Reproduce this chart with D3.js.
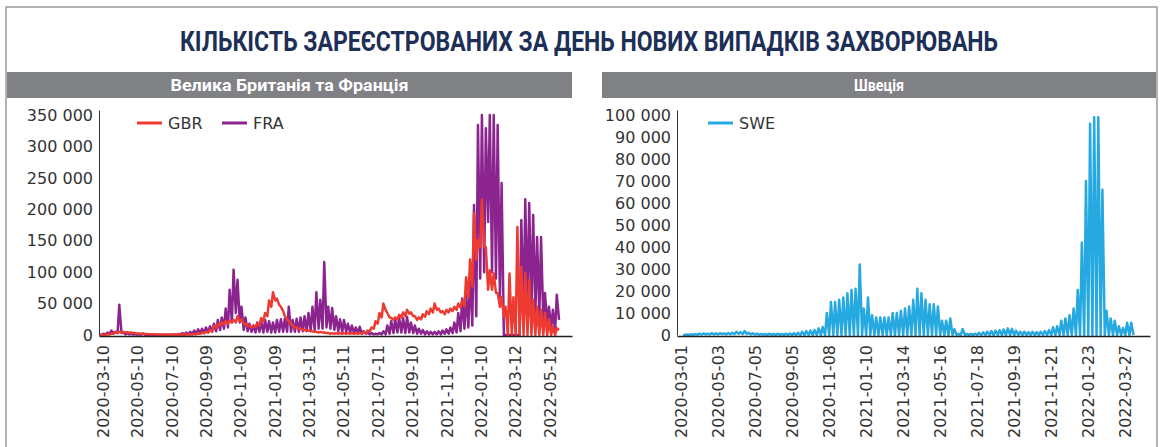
<!DOCTYPE html>
<html><head><meta charset="utf-8">
<script src="https://cdn.jsdelivr.net/npm/d3@7"></script>
<style>body{margin:0;background:#fff} svg{display:block}</style>
</head><body>
<svg id="c" width="1161" height="447"></svg>
<script>
const title = "КІЛЬКІСТЬ ЗАРЕЄСТРОВАНИХ ЗА ДЕНЬ НОВИХ ВИПАДКІВ ЗАХВОРЮВАНЬ";
const panelTitles = ["Велика Британія та Франція", "Швеція"];
const seriesNames = ["GBR", "FRA", "SWE"];
const weekStart = "2020-03-02";
// weekly values, thousands: weekday high and weekend low for each week
const fraPeakK = [1,2,4,7,5,48,4,3,2,1.5,1,
 2.5,0.8,0.6,0.5,0.5,0.6,0.5,0.7,0.8,1.5,
 3,4,5,7,9,10,12,14,18,24,
 28,42,72,104,88,45,28,18,15,20,
 22,24,22,20,24,25,26,45,24,26,
 28,30,35,45,68,56,116,45,43,30,
 25,24,18,15,12,13,6,4,3,2,
 3,6,15,22,25,28,27,29,20,15,
 10,8,6,5,5,6,7,9,12,20,
 35,58,65,98,207,334,350,329,350,350,
 334,242,0,0,0,0,183,216,210,191,
 156,156,67,45,40,64];
const fraLowK = [0.5,1,2,3,3,3,1,1,0.5,0.5,0.5,
 0.3,0.3,0.2,0.2,0.2,0.2,0.2,0.3,0.3,0.5,
 1,1,2,2,3,3,4,5,6,8,
 10,12,20,35,20,8,6,5,4,5,
 4,5,4,4,5,5,5,5,5,5,
 6,6,7,8,10,10,12,10,8,6,
 5,5,4,3,3,2,2,1,1,1,
 1,1,2,3,4,4,3,4,3,2,
 2,1,1,1,1,1,2,2,3,4,
 6,10,12,15,30,90,100,180,100,90,
 60,0,0,0,0,0,30,40,40,35,
 30,25,15,10,8,24];
const gbrPeakK = [0.1,0.3,1,2.5,4.5,5,5,4.5,4,3,2.5,
 2,1.5,1.2,1,0.8,0.7,0.7,0.7,0.7,0.7,
 0.7,0.8,1,1.5,2.5,3.5,5,8,14,18,
 20,22,23,24,30,25,18,15,15,18,
 27,35,55,68,58,45,30,22,15,12,
 10,8,7,6,5,5,4,3,3,3,
 3,3,3,3,3,3,4,7,12,22,
 35,50,35,27,28,32,36,40,36,30,
 28,33,38,42,50,42,38,40,42,45,
 50,55,92,120,194,151,215,140,103,98,
 67,60,45,98,60,172,108,98,87,56,
 45,40,35,25,13,11];
const gbrLowK = [0.05,0.2,0.7,2,3.5,4,4,3.5,3,2.5,2,
 1.5,1.2,1,0.8,0.6,0.5,0.5,0.5,0.5,0.5,
 0.5,0.6,0.8,1.2,2,3,4,6,12,15,
 17,18,20,20,22,18,14,12,13,15,
 22,30,45,55,48,38,25,18,12,10,
 8,7,6,5,4,4,3,2,2,2,
 2,2,2,2,2,2,3,6,10,18,
 28,40,28,24,25,28,30,34,30,24,
 25,29,33,36,40,36,33,36,38,40,
 44,46,60,77,120,140,140,72,72,67,
 45,29,0,0,0,0,0,0,0,0,
 0,0,0,0,0,8];
const swePeakK = [0.05,0.2,0.3,0.4,0.6,0.7,0.6,0.8,0.7,0.8,
 0.7,0.9,1,1.5,1.3,1.8,1,0.8,0.6,0.5,
 0.5,0.6,0.5,0.6,0.5,0.6,0.7,0.8,1,1.5,
 1.8,2,2.3,3,3.6,10,15,15,16,17,
 19,20.5,21,32,12,17,9,8,8,8,
 8,10,10,11,12,13,16,21,19,16,
 14,14,13,6.5,6.5,7.5,2.6,0.5,2.7,0.5,
 0.5,0.6,1,1.2,1.5,1.8,2,2.2,2.5,3,
 2.8,2,1.5,1.5,1.3,1.4,1.3,1.5,1.8,2.2,
 3.5,4,6.5,7.5,9,12,20.5,42,70,96,
 99,99,66,11,7.5,6.5,4,3.2,5.6,5.6];
const sweLowK = [0,0.05,0.1,0.15,0.2,0.3,0.3,0.3,0.3,0.4,
 0.3,0.3,0.4,0.5,0.5,0.5,0.3,0.2,0.1,0.1,
 0,0,0,0,0,0,0,0,0,0,
 0,0,0,0,0,0,0,0,0,0,
 0,0,0,0,0,0,0,0,0,0,
 0,0,0,0,0,0,0,0,0,0,
 0,0,0,0,0,0,0,0,0,0,
 0,0,0,0,0,0,0,0,0,0,
 0,0,0,0,0,0,0,0,0,0,
 0,0,0,0,0,0,0,0,0,0,
 0,0,0,0,0,0,0,0,0,0];
const xTicksL = ["2020-03-10","2020-05-10","2020-07-10","2020-09-09","2020-11-09","2021-01-09","2021-03-11","2021-05-11","2021-07-11","2021-09-10","2021-11-10","2022-01-10","2022-03-12","2022-05-12"];
const xTicksR = ["2020-03-01","2020-05-03","2020-07-05","2020-09-05","2020-11-08","2021-01-10","2021-03-14","2021-05-16","2021-07-18","2021-09-19","2021-11-21","2022-01-23","2022-03-27"];
const yTicksL = [0,50000,100000,150000,200000,250000,300000,350000];
const yTicksR = [0,10000,20000,30000,40000,50000,60000,70000,80000,90000,100000];
const colors = {GBR:"#ee3b32", FRA:"#8c2490", SWE:"#26a9e0"};

const parse = d3.utcParse("%Y-%m-%d");
const start = parse(weekStart);
function build(peaks, lows){
  const out = [];
  peaks.forEach((p,i)=>{
    out.push({d: d3.utcDay.offset(start, 7*i+2), v: p*1000});
    out.push({d: d3.utcDay.offset(start, 7*i+6), v: lows[i]*1000});
  });
  return out;
}
const fmt = d3.formatLocale({decimal:".", thousands:" ", grouping:[3], currency:["",""]}).format(",");

const svg = d3.select("#c");
svg.append("rect").attr("x",6).attr("y",7).attr("width",1151).attr("height",460)
  .attr("fill","none").attr("stroke","#9a9a9a").attr("stroke-width",1.5);
svg.append("text").attr("x",589).attr("y",51).attr("text-anchor","middle")
  .attr("textLength",818).attr("lengthAdjust","spacingAndGlyphs")
  .style("font-family","Roboto").style("font-weight",700).style("font-size","27px")
  .attr("fill","#1d2f57").text(title);

const panels = [
  {x0:7, x1:572, title:panelTitles[0], tl:238, ax:99, axEnd:572,
   dom:["2020-03-03","2022-06-21"], ymax:358000, yt:yTicksL, xt:xTicksL,
   series:[{n:"FRA", data:build(fraPeakK, fraLowK)},{n:"GBR", data:build(gbrPeakK, gbrLowK)}],
   legend:[{n:"GBR", x:137},{n:"FRA", x:222}]},
  {x0:602, x1:1156, title:panelTitles[1], tl:50, ax:677, axEnd:1150,
   dom:["2020-02-23","2022-05-08"], ymax:102272, yt:yTicksR, xt:xTicksR,
   series:[{n:"SWE", data:build(swePeakK, sweLowK)}],
   legend:[{n:"SWE", x:708}]}
];

panels.forEach(p=>{
  svg.append("rect").attr("x",p.x0).attr("y",72).attr("width",p.x1-p.x0).attr("height",26).attr("fill","#808185");
  svg.append("text").attr("x",(p.x0+p.x1)/2).attr("y",91).attr("text-anchor","middle")
    .attr("textLength",p.tl).attr("lengthAdjust","spacingAndGlyphs")
    .style("font-family","Roboto").style("font-weight",700).style("font-size","17px")
    .attr("fill","#fff").text(p.title);
  const x = d3.scaleUtc().domain(p.dom.map(parse)).range([p.ax, p.axEnd]);
  const y = d3.scaleLinear().domain([0,p.ymax]).range([335,110]);
  const line = d3.line().x(d=>x(d.d)).y(d=>y(d.v));
  p.series.forEach(s=>{
    svg.append("path").datum(s.data).attr("d",line).attr("fill","none")
      .attr("stroke",colors[s.n]).attr("stroke-width",2.5).attr("stroke-linejoin","round");
  });
  const gy = svg.append("g").attr("transform",`translate(${p.ax},0)`)
    .call(d3.axisLeft(y).tickValues(p.yt).tickFormat(fmt).tickSize(0).tickPadding(6));
  gy.select(".domain").attr("stroke","#333").attr("stroke-width",1);
  gy.selectAll("text").style("font-family","DejaVu Sans").style("font-size","16px").attr("fill","#333");
  const gx = svg.append("g").attr("transform","translate(0,336)")
    .call(d3.axisBottom(x).tickValues(p.xt.map(parse)).tickFormat(d3.utcFormat("%Y-%m-%d")).tickSize(0).tickSizeOuter(0));
  gx.select(".domain").attr("stroke","#222").attr("stroke-width",1.5);
  gx.selectAll("text").attr("transform","rotate(-90)").attr("x",-9).attr("y",0).attr("dy","0.35em")
    .attr("text-anchor","end").style("font-family","DejaVu Sans").style("font-size","16px").attr("fill","#333");
  p.legend.forEach(l=>{
    svg.append("line").attr("x1",l.x).attr("x2",l.x+25).attr("y1",123).attr("y2",123)
      .attr("stroke",colors[l.n]).attr("stroke-width",3);
    svg.append("text").attr("x",l.x+31).attr("y",123).attr("dy","0.35em")
      .style("font-family","DejaVu Sans").style("font-size","16px").attr("fill","#333").text(l.n);
  });
});
</script>
</body></html>
